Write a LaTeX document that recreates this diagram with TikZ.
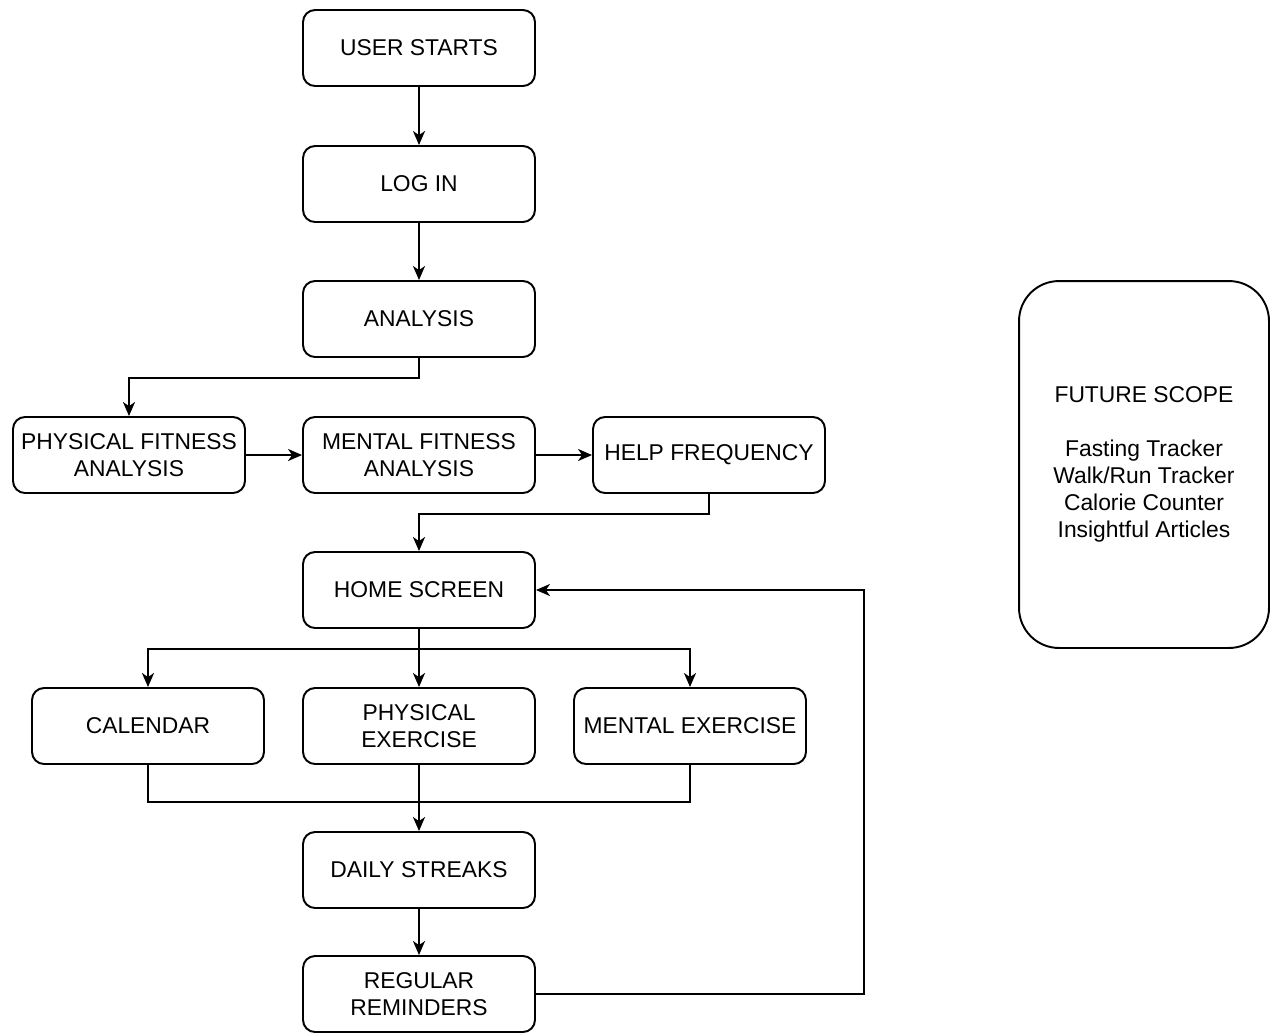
\documentclass[tikz,border=0pt]{standalone}
\usepackage{fontspec}
\setmainfont{Liberation Sans}
\usetikzlibrary{arrows.meta}
\tikzset{
  box/.style={draw, rounded corners=.24cm, minimum width=4.64cm, minimum height=1.52cm, inner sep=2pt, align=center, font=\fontsize{13}{15.4}\selectfont},
  arr/.style={-{Stealth[length=.28cm,width=.24cm,inset=.08cm]}}
}
\begin{document}
\begin{tikzpicture}[x=.02cm,y=-.02cm,line width=1.1pt]
\useasboundingbox (0,0) rectangle (1271,1032);
% main flow
\node[box] (start) at (419,48) {USER STARTS};
\node[box] (login) at (419,184) {LOG IN};
\node[box] (ana) at (419,319) {ANALYSIS};
\node[box] (pfa) at (129,455) {PHYSICAL FITNESS\\ANALYSIS};
\node[box] (mfa) at (419,455) {MENTAL FITNESS\\ANALYSIS};
\node[box] (help) at (709,455) {HELP FREQUENCY};
\node[box] (home) at (419,590) {HOME SCREEN};
\node[box] (cal) at (148,726) {CALENDAR};
\node[box] (pe) at (419,726) {PHYSICAL\\EXERCISE};
\node[box] (me) at (690,726) {MENTAL EXERCISE};
\node[box] (daily) at (419,870) {DAILY STREAKS};
\node[box] (reg) at (419,994) {REGULAR\\REMINDERS};
% side note
\node[draw, rounded corners=.8cm, minimum width=5cm, minimum height=7.34cm, align=center, font=\fontsize{13}{15.4}\selectfont] (future) at (1144,464.5) {FUTURE SCOPE\\[15.4pt]Fasting Tracker\\Walk/Run Tracker\\Calorie Counter\\Insightful Articles};
% connectors
\draw[arr] (start) -- (login); \draw[arr] (login) -- (ana);
\draw[arr] (ana.south) -- ++(0,20) -| (pfa.north);
\draw[arr] (pfa) -- (mfa); \draw[arr] (mfa) -- (help);
\draw[arr] (help.south) -- ++(0,20) -| (home.north);
\draw[arr] (home) -- (pe);
\draw[arr] (home.south) -- ++(0,20) -| (cal.north);
\draw[arr] (home.south) -- ++(0,20) -| (me.north);
\coordinate (merge) at (419,802);
\draw (cal.south) |- (merge); \draw (me.south) |- (merge);
\draw[arr] (pe) -- (daily); \draw[arr] (daily) -- (reg);
\draw[arr] (reg.east) -- ++(328,0) |- (home.east);
\end{tikzpicture}
\end{document}
